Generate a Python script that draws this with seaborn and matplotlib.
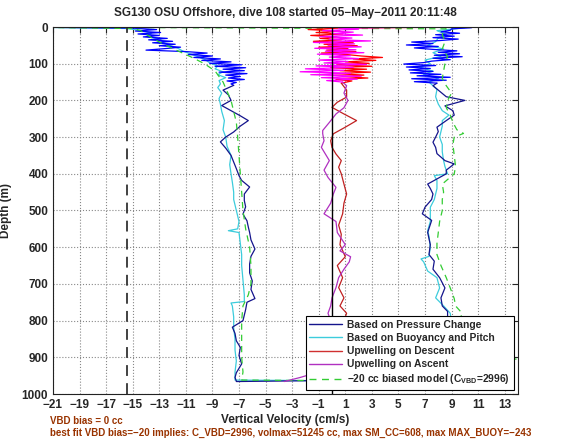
import pandas as pd
import seaborn as sns
import matplotlib.pyplot as plt
from matplotlib.lines import Line2D

# descent, w from pressure change (raw near surface, smoothed below)
desc_raw_depth = [0, 3, 7, 11, 15, 19, 23, 27, 31, 35, 39, 43, 47, 51, 55, 59, 63, 67, 71, 75,
                  79, 83, 87, 91, 95, 99, 103, 107, 111, 115, 119, 123, 127, 131, 135, 139, 143, 147, 151, 155, 159]
desc_raw_w = [-24, -15.0, -13.2, -14.8, -12.9, -14.6, -13.0, -14.2, -12.4, -13.8, -12.0, -13.5, -11.8, -13.0,
              -11.4, -12.6, -14.0, -11.0, -9.4, -10.8, -9.0, -10.4, -8.4, -9.8, -7.6, -9.2, -6.8, -8.8, -6.5,
              -8.2, -6.6, -8.5, -6.4, -8.0, -6.9, -7.8, -6.6, -7.9, -7.2, -7.6, -7.4]
desc_depth = [159, 172, 185, 200, 214, 228, 242, 255, 270, 286, 300, 313, 330, 350, 368, 386, 405, 418, 436, 455,
              473, 490, 510, 528, 545, 560, 580, 605, 625, 646, 670, 692, 715, 740, 750, 770, 800, 818, 835, 855,
              873, 895, 918, 942, 955, 965]
desc_w = [-7.4, -8.2, -7.8, -7.6, -8.3, -7.6, -6.9, -6.3, -6.9, -7.4, -8.0, -8.4, -8.0, -7.6, -7.4, -7.2, -7.0,
          -6.8, -6.2, -6.6, -6.6, -6.5, -6.7, -6.4, -6.3, -6.2, -6.1, -5.8, -6.1, -6.2, -6.2, -6.0, -6.1, -5.8,
          -6.4, -6.5, -6.7, -7.5, -7.3, -7.2, -6.9, -7.0, -6.8, -7.2, -7.3, -7.2]

# ascent, w from pressure change
asc_depth = [966, 960, 940, 900, 860, 820, 800, 775, 760, 738, 711, 683, 660, 638, 620, 593, 560, 527, 509, 491,
             470, 455, 440, 428, 418, 400, 390, 373, 364, 345, 328, 314, 300, 285, 273, 255, 240, 228, 215, 200,
             190, 172, 160, 153]
asc_w = [-7.2, 8.0, 8.5, 8.8, 9.2, 9.0, 8.7, 8.7, 8.3, 8.2, 8.5, 8.1, 7.6, 7.7, 7.3, 7.4, 7.2, 7.5, 6.8, 7.0,
         7.5, 7.6, 7.4, 7.2, 7.7, 8.6, 8.6, 9.2, 8.5, 7.9, 7.8, 7.6, 7.8, 8.0, 7.9, 8.6, 9.2, 9.1, 8.5, 10.0,
         8.6, 8.0, 7.6, 7.9]
asc_raw_depth = [153, 149, 145, 141, 137, 133, 129, 125, 121, 117, 113, 109, 105, 101, 97, 93, 89, 85, 81, 77,
                 73, 69, 65, 61, 57, 53, 49, 45, 41, 37, 33, 29, 25, 21, 17, 13, 9, 5, 2]
asc_raw_w = [7.9, 6.2, 8.6, 6.0, 8.9, 6.4, 8.2, 5.9, 7.6, 5.8, 7.4, 5.6, 7.8, 5.4, 6.9, 7.5, 8.9, 7.6, 9.8, 7.7,
             9.6, 8.0, 9.4, 7.6, 6.2, 8.0, 5.6, 7.6, 6.0, 8.1, 9.5, 7.6, 9.2, 7.8, 9.6, 8.2, 8.9, 9.0, 10.5]

# w from buoyancy and pitch
buoy_desc_depth = [0, 4, 10, 18, 26, 34, 42, 50, 58, 66, 74, 82, 90, 98, 106, 114, 122, 130, 138, 146,
                   155, 165, 180, 195, 210, 230, 255, 280, 300, 325, 350, 375, 400, 423, 450, 470, 500, 530, 550,
                   555, 560, 590, 620, 650, 690, 730, 748, 752, 760, 790, 820, 850, 880, 910, 940, 962]
buoy_desc_w = [-24, -15.5, -14.2, -13.6, -13.9, -12.9, -12.7, -12.2, -11.6, -11.2, -10.6, -10.0, -9.5, -9.2,
               -8.6, -8.8, -8.2, -8.6, -8.0, -8.5, -8.4, -8.6, -8.3, -8.5, -8.4, -8.3, -8.1, -8.2, -8.0, -7.9,
               -7.6, -7.7, -7.6, -7.5, -7.4, -7.4, -7.2, -7.0, -7.1, -7.8, -7.0, -6.9, -6.8, -6.8, -6.7, -6.6,
               -6.6, -7.6, -7.5, -7.4, -7.4, -7.3, -7.3, -7.2, -7.3, -7.3]
buoy_asc_depth = [966, 930, 890, 850, 810, 780, 760, 738, 711, 683, 665, 640, 632, 625, 600, 570, 555, 530, 509,
                  491, 470, 440, 418, 405, 400, 380, 364, 340, 320, 300, 285, 270, 255, 240, 228, 210, 190, 170,
                  150, 140, 130, 120, 110, 100, 90, 80, 70, 60, 50, 40, 30, 20, 10, 2]
buoy_asc_w = [8.2, 8.6, 9.0, 9.2, 9.0, 8.9, 8.4, 7.8, 8.1, 7.9, 7.2, 6.9, 6.7, 7.3, 7.4, 7.3, 7.2, 7.4, 7.4, 7.4,
              7.7, 7.9, 7.9, 7.7, 8.7, 8.5, 8.4, 8.3, 8.3, 8.1, 8.2, 8.3, 8.3, 8.8, 8.3, 8.0, 7.8, 7.9, 7.3, 8.0,
              6.9, 7.6, 6.6, 7.4, 7.0, 8.2, 7.6, 8.4, 7.2, 7.8, 8.0, 8.6, 7.9, 10.0]

# -20 cc biased model
model_desc_depth = [0, 4, 10, 20, 35, 50, 65, 80, 100, 120, 150, 175, 200, 230, 260, 300, 350, 400, 450, 500,
                    550, 600, 650, 700, 730, 760, 800, 850, 900, 940, 962]
model_desc_w = [-24, -15.0, -14.4, -14.0, -13.3, -12.5, -11.6, -10.7, -9.6, -8.8, -8.2, -7.9, -7.6, -7.4, -7.2,
                -7.1, -7.0, -6.9, -6.8, -6.7, -6.5, -6.2, -6.1, -6.1, -6.3, -6.7, -6.8, -6.8, -6.8, -6.7, -6.8]
model_asc_depth = [966, 930, 905, 900, 880, 840, 800, 780, 760, 740, 711, 683, 650, 620, 590, 560, 530, 500, 470,
                   450, 428, 400, 380, 350, 320, 300, 290, 280, 260, 240, 220, 200, 180, 160, 140, 120, 100, 80,
                   60, 40, 20, 5, 0]
model_asc_w = [9.0, 10.2, 13.9, 11.5, 10.4, 10.0, 9.6, 9.8, 9.3, 9.2, 8.9, 8.6, 8.2, 7.9, 7.9, 8.0, 8.1, 8.3,
               8.3, 8.4, 8.3, 9.2, 9.3, 9.2, 9.1, 9.2, 9.9, 9.4, 9.1, 8.9, 8.6, 8.7, 9.0, 8.6, 8.3, 8.4, 8.5, 8.7,
               8.3, 8.5, 8.3, 8.6, -24]

# upwelling on descent
upd_raw_depth = [0, 3, 7, 11, 15, 19, 23, 27, 31, 35, 39, 43, 47, 51, 55, 59, 63, 67, 71, 75,
                 79, 83, 87, 91, 95, 99, 103, 107, 111, 115, 119, 123, 127, 131, 135, 139, 143, 147, 153]
upd_raw_w = [10.0, 0.5, -1.8, 0.6, -1.2, 0.8, -1.6, 0.3, -0.9, 0.7, -1.4, 1.6, -0.6, 1.9, -1.0, 1.2, -0.4, 1.8,
             -0.8, 1.1, 2.2, 3.8, 1.6, 3.3, 1.0, 2.8, 0.4, 3.0, -0.1, 2.6, 0.6, 2.9, 0.2, 2.4, 0.8, 2.7, 0.3,
             1.5, 0.7]
upd_depth = [153, 172, 191, 205, 219, 237, 255, 273, 291, 310, 328, 346, 364, 382, 400, 428, 455, 480, 509, 540,
             565, 593, 626, 650, 683, 710, 738, 760, 780, 810, 840, 870, 900, 930, 960]
upd_w = [0.7, 1.1, 1.1, 0.4, 0.0, 0.9, 1.85, 1.0, 0.1, -0.1, 0.0, 0.3, 0.7, 0.5, 0.7, 0.9, 1.1, 0.9, 0.8, 0.5,
         0.7, 0.6, 1.0, 0.4, 0.8, 0.5, 0.9, 0.6, 1.1, 0.8, 0.5, 0.7, 0.4, 0.6, 0.2]

# upwelling on ascent
upa_depth = [966, 955, 940, 920, 900, 870, 840, 810, 780, 760, 738, 710, 683, 660, 640, 626, 610, 593, 560, 530,
             509, 480, 455, 437, 410, 390, 364, 346, 328, 310, 291, 282, 260, 237, 220, 200, 180, 160, 150]
upa_w = [-3.6, -2.4, -1.0, -0.6, -0.3, -0.5, -0.2, 0.0, -0.3, -0.1, 0.0, 0.3, 0.5, 0.9, 1.3, 1.4, 0.6, 1.0, 0.4,
         0.3, -0.6, -0.1, 0.1, 0.3, -0.3, -0.6, -0.2, -0.5, -0.8, -0.6, -0.7, -0.7, -0.2, 0.3, 0.9, 1.2, 0.9,
         1.1, 0.8]
upa_raw_depth = [150, 146, 142, 138, 134, 130, 126, 122, 118, 114, 110, 106, 102, 98, 94, 90, 86, 82, 78, 74,
                 70, 66, 62, 58, 54, 50, 46, 42, 38, 34, 30, 26, 22, 18, 14, 10, 6, 3, 0]
upa_raw_w = [0.8, -0.4, 1.9, -0.8, 2.2, -1.6, 1.4, -2.4, 0.9, -2.0, 1.6, -1.2, 2.6, -0.6, 1.2, -1.0, 2.0, -0.2,
             1.4, -1.1, 2.4, -0.5, 1.8, -1.3, 2.2, -0.3, 1.7, -1.4, 2.9, -0.2, 1.5, -0.9, 2.3, 0.0, 1.6, -0.7,
             2.0, 0.5, 8.0]

xticks = list(range(-21, 14, 2))
yticks = list(range(0, 1001, 100))
legend_labels = ["Based on Pressure Change", "Based on Buoyancy and Pitch", "Upwelling on Descent",
                 "Upwelling on Ascent", "\u221220 cc biased model (C$_{\\mathbf{VBD}}$=2996)"]

sns.set_style("white")
plt.rcParams['font.family'] = ['Liberation Sans', 'DejaVu Sans']
plt.rcParams['font.weight'] = 'bold'
plt.rcParams['mathtext.fontset'] = 'custom'
plt.rcParams['mathtext.rm'] = 'Liberation Sans:bold'
plt.rcParams['mathtext.bf'] = 'Liberation Sans:bold'

navy, blue = '#14148c', '#0000ff'
cyan = '#3cccdc'
green = '#33cc33'
red_raw, red = '#ff0000', '#c02020'
mag_raw, mag = '#ff00ff', '#b030c0'
brown = '#993300'

fig = plt.figure(figsize=(5.7, 4.4), dpi=100)
ax = fig.add_axes([53 / 570, 1 - 394 / 440, 465 / 570, 367 / 440])

def draw(w, d, color, lw=0.9, **kw):
    df = pd.DataFrame({'w': w, 'depth': d})
    sns.lineplot(data=df, x='w', y='depth', sort=False, estimator=None, color=color,
                 lw=lw, ax=ax, legend=False, **kw)

draw(buoy_desc_w + buoy_asc_w, buoy_desc_depth + buoy_asc_depth, cyan)
draw(desc_raw_w, desc_raw_depth, blue)
draw(desc_w, desc_depth, navy)
draw(asc_w, asc_depth, navy)
draw(asc_raw_w, asc_raw_depth, blue)
draw(model_desc_w + model_asc_w, model_desc_depth + model_asc_depth, green, dashes=(5, 4))
draw(upd_raw_w, upd_raw_depth, red_raw)
draw(upd_w, upd_depth, red)
draw(upa_w, upa_depth, mag)
draw(upa_raw_w, upa_raw_depth, mag_raw)

ax.axvline(-15.4, color='#333333', lw=1.3, ls=(0, (6, 4)))
ax.axvline(0, color='black', lw=1.0)

ax.set_xlim(-21, 14)
ax.set_ylim(1000, 0)
ax.set_xticks(xticks)
ax.set_yticks(yticks)
ax.grid(True, ls=':', color='#888888', lw=0.8)
ax.tick_params(direction='in', top=True, right=True, length=4, labelsize=8.5, width=0.8)
for lab in ax.get_xticklabels() + ax.get_yticklabels():
    lab.set_fontweight('bold')
for s in ax.spines.values():
    s.set_color('#222222')
    s.set_linewidth(0.8)

ax.set_xlabel("Vertical Velocity (cm/s)", fontsize=8.5, fontweight='bold', labelpad=2)
ax.set_ylabel("Depth (m)", fontsize=8.5, fontweight='bold', labelpad=7)
fig.text(285 / 570, 1 - 13 / 440, "SG130 OSU Offshore, dive 108 started 05\u2212May\u22122011 20:11:48",
         ha='center', va='center', fontsize=8.5, fontweight='bold')

handles = [Line2D([], [], color=navy, lw=1), Line2D([], [], color=cyan, lw=1),
           Line2D([], [], color='#d03030', lw=1), Line2D([], [], color=mag, lw=1),
           Line2D([], [], color=green, lw=1, dashes=(5, 4))]
leg = ax.legend(handles, legend_labels, loc='lower right', fontsize=7.4, frameon=True, fancybox=False,
                borderpad=0.35, labelspacing=0.3, handlelength=3.2, handletextpad=0.5,
                borderaxespad=0.4, framealpha=1)
leg.get_frame().set_edgecolor('black')
leg.get_frame().set_linewidth(0.8)
for t in leg.get_texts():
    t.set_fontweight('bold')

fig.text(50 / 570, 1 - 421 / 440, "VBD bias = 0 cc", color=brown, fontsize=7, fontweight='bold', va='center')
fig.text(50 / 570, 1 - 433 / 440,
         "best fit VBD bias=\u221220 implies: C_VBD=2996, volmax=51245 cc, max SM_CC=608, max MAX_BUOY=\u2212243",
         color=brown, fontsize=7, fontweight='bold', va='center')

fig.savefig("out.png", dpi=100)
